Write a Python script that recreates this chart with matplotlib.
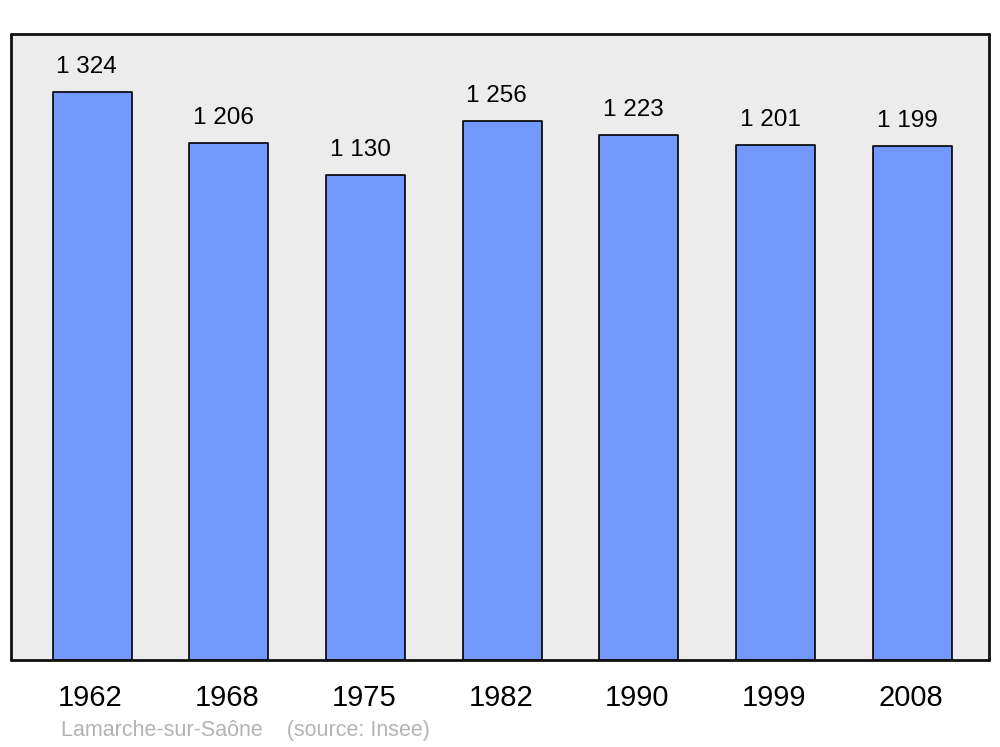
import numpy as np
import matplotlib.pyplot as plt
from matplotlib.transforms import ScaledTranslation

# Population de Lamarche-sur-Saône
annees = ['1962', '1968', '1975', '1982', '1990', '1999', '2008']
population = [1324, 1206, 1130, 1256, 1223, 1201, 1199]
etiquettes = ['1 324', '1 206', '1 130', '1 256', '1 223', '1 201', '1 199']

plt.rcParams['font.family'] = ['Liberation Sans', 'DejaVu Sans']

fig = plt.figure(figsize=(10, 7.47), dpi=100)
ax = fig.add_axes([0.011, 0.1165, 0.978, 0.838])
ax.set_facecolor('#ececec')

x = np.arange(len(annees))
ax.bar(x, population, width=0.578, color='#7399ff', edgecolor='black',
       linewidth=1.2, joinstyle='round', zorder=2)

for xi, v, lab in zip(x, population, etiquettes):
    ax.annotate(lab, (xi, v), xytext=(-4, 18), textcoords='offset points',
                ha='center', va='center', fontsize=17.5, color='black')

ax.set_xlim(-0.593, 6.56)
ax.set_ylim(0, 1459)
ax.set_xticks(x)
ax.set_xticklabels(annees, fontsize=21)
ax.tick_params(axis='x', length=0, pad=17)
decal = ScaledTranslation(-1.5 / 100, 0, fig.dpi_scale_trans)
for t in ax.get_xticklabels():
    t.set_transform(t.get_transform() + decal)
ax.set_yticks([])
for s in ax.spines.values():
    s.set_linewidth(2)
    s.set_color('#111111')
    s.set_capstyle('round')

fig.text(0.061, 0.0225, 'Lamarche-sur-Saône    (source: Insee)', fontsize=15.5,
         color='#b3b3b3', ha='left', va='center')

fig.savefig('out.png', dpi=100, facecolor='white')
